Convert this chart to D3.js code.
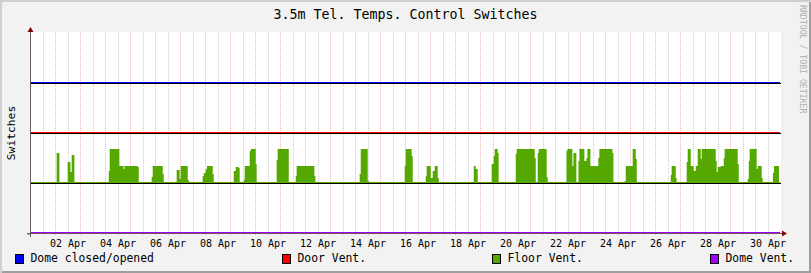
<!DOCTYPE html>
<html>
<head>
<meta charset="utf-8">
<script src="https://cdn.jsdelivr.net/npm/d3@7"></script>
<style>
  body { margin: 0; background: #f2f2f2; }
  svg { display: block; font-family: "DejaVu Sans Mono", monospace; }
</style>
</head>
<body>
<div class="chart"></div>
<script>
var totalWidth = 811;
var totalHeight = 273;

var margin = { top: 33, left: 30, bottom: 40, right: 31 };
var width = totalWidth - margin.left - margin.right;   // 750
var height = totalHeight - margin.top - margin.bottom; // 200

// DATA
var title = "3.5m Tel. Temps. Control Switches";
var yLabel = "Switches";
var watermark = "RRDTOOL / TOBI OETIKER";

var startTime = new Date(Date.UTC(2024, 3, 1));
var endTime = new Date(Date.UTC(2024, 4, 1));

var seriesNames = ["Dome closed/opened", "Door Vent.", "Floor Vent.", "Dome Vent."];
var seriesColors = ["#0000ff", "#ff0000", "#54a800", "#a000ff"];
var seriesOffsets = [3, 2, 1, 0];

// hours since 01 Apr 00:00, value held until the next entry (0 = closed, 1 = open)
var domeClosedHours = [0];
var domeClosedValues = [0];
var doorVentHours = [0];
var doorVentValues = [0];
var domeVentHours = [0];
var domeVentValues = [0];

var floorVentHours = [
  0, 25.6, 28.2, 36.2, 38.8, 40.0, 42.6, 75.6, 76.5, 85.8,
  89.7, 90.6, 103.4, 104.4, 116.8, 117.8, 127.4, 128.4, 140.8, 143.7,
  144.7, 151.4, 152.4, 165.8, 166.8, 168.7, 169.9, 175.4, 176.4, 195.6,
  197.5, 200.4, 201.3, 205.2, 206.1, 210.9, 211.9, 216.7, 217.6, 236.8,
  237.8, 248.4, 255.1, 256.0, 273.0, 274.0, 316.5, 317.5, 324.2, 325.2,
  359.7, 360.7, 366.4, 367.4, 379.9, 380.8, 384.7, 386.6, 388.5, 391.4,
  392.4, 426.0, 427.9, 429.8, 443.2, 445.1, 446.1, 449.0, 449.9, 466.3,
  467.2, 484.5, 485.5, 487.4, 488.4, 496.0, 497.0, 515.0, 515.9, 520.7,
  521.7, 524.5, 526.5, 527.4, 532.2, 534.1, 535.1, 538.0, 545.6, 546.6,
  559.1, 560.1, 570.9, 571.9, 578.6, 581.5, 582.5, 615.1, 616.0, 619.9,
  620.8, 630.4, 631.4, 634.3, 637.1, 639.1, 641.0, 643.9, 644.8, 658.3,
  659.2, 660.2, 663.1, 666.0, 666.9, 679.4, 680.4, 689.0, 690.0, 690.9,
  697.6, 698.6, 702.4, 703.4, 713.2, 714.2, 718.0, 719.0
];
var floorVentValues = [
  0, 0.88, 0, 0.61, 0.3, 0.82, 0, 0.33, 1.0, 0.5,
  0.4, 0.5, 0.45, 0, 0.14, 0.5, 0.24, 0, 0.36, 0.1,
  0.5, 0.05, 0, 0.18, 0.26, 0.38, 0.5, 0.24, 0, 0.33,
  0.45, 0.41, 0, 0.06, 0.5, 0.94, 1.0, 0.55, 0, 0.67,
  1.0, 0, 0.18, 0.5, 0.18, 0, 0.24, 1.0, 0.03, 0,
  0.48, 1.0, 0.79, 0, 0.18, 0.5, 0.12, 0.33, 0.5, 0.12,
  0, 0.48, 0.39, 0, 0.55, 0.79, 1.0, 0.88, 0, 0.85,
  1.0, 0.73, 0, 0.88, 1.0, 0.15, 0, 0.94, 1.0, 0.48,
  0.88, 0, 0.64, 1.0, 0.64, 0.73, 1.0, 0.5, 0.73, 1.0,
  0.88, 0, 0.03, 0.5, 1.0, 0.7, 0, 0.21, 0.5, 0.12,
  0, 0.61, 1.0, 0.5, 0.33, 0.5, 1.0, 0.7, 1.0, 0.64,
  0.3, 0.45, 0.5, 0.73, 1.0, 0.55, 0, 0.09, 0.64, 1.0,
  0.39, 0.5, 0.12, 0, 0.27, 0.5, 0.48, 0
];

// an open switch is drawn 0.66 of a lane high
var openHeight = 0.66;

var legendX = [15, 282, 492, 710];

// build series
function toPoints(hours, values) {
  var pts = hours.map(function(h, i) {
    return { t: new Date(startTime.getTime() + h * 3600000), v: values[i] };
  });
  pts.push({ t: endTime, v: values[values.length - 1] });
  return pts;
}

var series = [
  toPoints(domeClosedHours, domeClosedValues),
  toPoints(doorVentHours, doorVentValues),
  toPoints(floorVentHours, floorVentValues),
  toPoints(domeVentHours, domeVentValues)
];

// SCALES
var xScale = d3.scaleUtc().domain([startTime, endTime]).range([0, width]);
var yScale = d3.scaleLinear().domain([0, 4]).range([height, 0]);

// SVG
var svg = d3.select(".chart").append("svg")
  .attr("width", totalWidth)
  .attr("height", totalHeight);

svg.append("rect").attr("width", totalWidth).attr("height", totalHeight).attr("fill", "#f2f2f2");
// 3d border
svg.append("path").attr("fill", "#cfcfcf")
  .attr("d", "M0,0H" + totalWidth + "V2H2V" + totalHeight + "H0Z");
svg.append("path").attr("fill", "#9e9e9e")
  .attr("d", "M" + totalWidth + "," + totalHeight + "H2V" + (totalHeight - 2) + "H" + (totalWidth - 2) + "V2H" + totalWidth + "Z");

var mainGroup = svg.append("g")
  .attr("transform", "translate(" + margin.left + "," + margin.top + ")");

mainGroup.append("rect")
  .attr("x", 1).attr("y", -1)
  .attr("width", width).attr("height", height + 1)
  .attr("fill", "#ffffff");

// grid
var majorDays = d3.utcDay.range(d3.utcDay.offset(startTime, 1), endTime);
var minorNoons = d3.utcDay.range(startTime, endTime).map(function(d) { return d3.utcHour.offset(d, 12); });

mainGroup.append("g").selectAll("line")
  .data(minorNoons).enter().append("line")
  .attr("x1", function(d) { return Math.round(xScale(d)) + 0.5; })
  .attr("x2", function(d) { return Math.round(xScale(d)) + 0.5; })
  .attr("y1", -1).attr("y2", height + 3)
  .attr("stroke", "#cccccc")
  .attr("stroke-dasharray", "1,1");

mainGroup.append("g").selectAll("line")
  .data(majorDays).enter().append("line")
  .attr("x1", function(d) { return Math.round(xScale(d)) + 0.5; })
  .attr("x2", function(d) { return Math.round(xScale(d)) + 0.5; })
  .attr("y1", -1).attr("y2", height + 3)
  .attr("stroke", "#f0b4b4")
  .attr("stroke-dasharray", "1,1");

// areas + lines
series.forEach(function(pts, i) {
  var off = seriesOffsets[i];
  var area = d3.area()
    .curve(d3.curveStepAfter)
    .x(function(d) { return xScale(d.t); })
    .y0(yScale(off))
    .y1(function(d) { return Math.round(yScale(off + d.v * openHeight)) - 1; });

  mainGroup.append("path")
    .datum(pts)
    .attr("d", area)
    .attr("fill", seriesColors[i]);

  mainGroup.append("line")
    .attr("x1", 1).attr("x2", width + 1)
    .attr("y1", yScale(off) + 0.5).attr("y2", yScale(off) + 0.5)
    .attr("stroke", "#000")
    .attr("stroke-width", 1);
});

// axes
var axisColor = "#6a5a5a";
mainGroup.append("line")
  .attr("x1", 0.5).attr("x2", 0.5)
  .attr("y1", -4).attr("y2", height + 4)
  .attr("stroke", axisColor);
mainGroup.append("line")
  .attr("x1", -3).attr("x2", width + 4)
  .attr("y1", height + 0.5).attr("y2", height + 0.5)
  .attr("stroke", axisColor);

mainGroup.append("g")
  .attr("transform", "translate(0.5,0.5)")
  .call(d3.axisLeft(yScale).tickValues([0]).tickSize(3).tickFormat(""))
  .call(function(g) {
    g.select(".domain").remove();
    g.selectAll(".tick line").attr("stroke", axisColor);
  });

// arrows
mainGroup.append("path")
  .attr("d", "M-2.5,-1L3.5,-1L0.5,-6Z")
  .attr("fill", "#7f0000");
mainGroup.append("path")
  .attr("d", "M" + (width + 2) + "," + (height - 2.5) + "L" + (width + 7) + "," + (height + 0.5) + "L" + (width + 2) + "," + (height + 3.5) + "Z")
  .attr("fill", "#7f0000");

var labelDays = d3.utcDay.range(d3.utcDay.offset(startTime, 1), endTime, 2)
  .map(function(d) { return d3.utcHour.offset(d, 12); });

mainGroup.append("g")
  .attr("transform", "translate(0," + height + ")")
  .call(d3.axisBottom(xScale)
    .tickValues(labelDays)
    .tickFormat(d3.utcFormat("%d %b"))
    .tickSize(0)
    .tickPadding(6))
  .call(function(g) {
    g.select(".domain").remove();
    g.selectAll(".tick text")
      .attr("font-family", "DejaVu Sans Mono")
      .attr("font-size", "10px")
      .attr("fill", "#000")
      .attr("dy", "0.78em");
  });

// title
svg.append("text")
  .attr("x", 405.5).attr("y", 19)
  .attr("text-anchor", "middle")
  .attr("font-size", "13.3px")
  .attr("fill", "#000")
  .text(title);

// y label
svg.append("text")
  .attr("transform", "translate(15,133) rotate(-90)")
  .attr("text-anchor", "middle")
  .attr("font-size", "11.3px")
  .attr("fill", "#000")
  .text(yLabel);

// watermark
svg.append("text")
  .attr("transform", "translate(799.5,5) rotate(90)")
  .attr("font-size", "8.2px")
  .attr("fill", "#b0b0b0")
  .text(watermark);

// legend
var legend = svg.append("g").selectAll("g")
  .data(seriesNames).enter().append("g")
  .attr("transform", function(d, i) { return "translate(" + legendX[i] + ",254)"; });

legend.append("rect")
  .attr("x", 0.5).attr("y", 0.5)
  .attr("width", 8).attr("height", 9)
  .attr("fill", function(d, i) { return seriesColors[i]; })
  .attr("stroke", "#000");

legend.append("text")
  .attr("x", 15.5).attr("y", 8)
  .attr("font-size", "11.4px")
  .attr("fill", "#000")
  .text(function(d) { return d; });
</script>
</body>
</html>
